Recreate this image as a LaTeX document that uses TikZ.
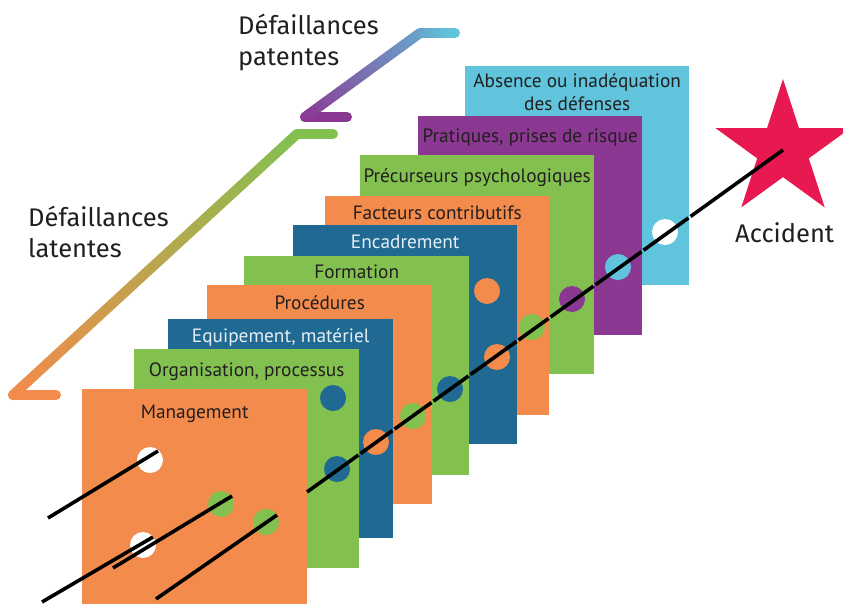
\documentclass[tikz,border=0pt]{standalone}
\usepackage{fontspec}
\setmainfont{PT Sans}
\newfontfamily\headfont{Fira Sans}
\usetikzlibrary{shapes.geometric,calc}
\definecolor{tang}{RGB}{242,139,76}
\definecolor{leaf}{RGB}{130,193,80}
\definecolor{navy}{RGB}{31,105,146}
\definecolor{purp}{RGB}{139,56,146}
\definecolor{skyc}{RGB}{95,196,220}
\definecolor{starred}{RGB}{232,25,80}
\definecolor{textdark}{RGB}{35,31,32}
\definecolor{textlight}{RGB}{228,238,244}
\begin{document}
\begin{tikzpicture}[x=1pt, y=-1pt,
  panel/.style={anchor=north west, inner sep=0pt, minimum height=219pt},
  lbl/.style={anchor=base, inner sep=0pt, align=center, font=\fontsize{19.3}{23}\selectfont},
  head/.style={anchor=base west, inner sep=0pt, align=left, text=textdark, font=\headfont\fontsize{25.5}{30.5}\selectfont},
  ray/.style={line width=3.6pt, black},
  bracket/.style={line width=10pt, line cap=round, line join=round}]
\useasboundingbox (0,0) rectangle (843,603);
\clip (0,0) rectangle (843,603);

% brackets
\coordinate (lat-a) at (333,134);
\coordinate (lat-b) at (297,134);
\coordinate (lat-c) at (13,395);
\coordinate (lat-d) at (56,395);
\draw[bracket, leaf] (lat-a) -- (lat-b);
\foreach \i in {1,...,40}{
  \pgfmathsetmacro\p{(\i-0.5)*2.5}
  \draw[bracket, color=tang!\p!leaf] ($(lat-b)!{(\i-1)/40}!(lat-c)$) -- ($(lat-b)!{\i/40}!(lat-c)$);
}
\draw[bracket, tang] (lat-c) -- (lat-d);

\coordinate (pat-a) at (347,117);
\coordinate (pat-b) at (305,117);
\coordinate (pat-c) at (420,33);
\coordinate (pat-d) at (455,33);
\draw[bracket, purp] (pat-a) -- (pat-b);
\foreach \i in {1,...,30}{
  \pgfmathsetmacro\p{(\i-0.5)*2.5}
  \draw[bracket, color=skyc!\p!purp] ($(pat-b)!{(\i-1)/30}!(pat-c)$) -- ($(pat-b)!{\i/30}!(pat-c)$);
}
\foreach \i in {1,...,10}{
  \pgfmathsetmacro\p{75+(\i-0.5)*2.5}
  \draw[bracket, color=skyc!\p!purp] ($(pat-c)!{(\i-1)/10}!(pat-d)$) -- ($(pat-c)!{\i/10}!(pat-d)$);
}

\node[head] (patentes) at (238,65) {Défaillances\\patentes};
\node[head] (latentes) at (28,257) {Défaillances\\latentes};

% panels, back to front
\foreach \n/\x/\y/\w/\c/\tc/\d/\t in {
  absence/465/66/224/skyc/textdark/44/{Absence ou inadéquation\\des défenses},
  pratiques/418/116/224/purp/textdark/26/{Pratiques, prises de risque},
  precurseurs/360/155/234/leaf/textdark/27/{Précurseurs psychologiques},
  facteurs/325/196/224/tang/textdark/23/{Facteurs contributifs},
  encadrement/293/225/224/navy/textlight/23/{Encadrement},
  formation/244/256/225/leaf/textdark/22/{Formation},
  procedures/207/285/225/tang/textdark/24/{Procédures},
  equipement/168/319/225/navy/textlight/23/{Equipement, matériel},
  organisation/134/349/225/leaf/textdark/27/{Organisation, processus},
  management/82/389/225/tang/textdark/29/{Management}}{
  \node[panel, fill=\c, minimum width=\w pt] (\n) at (\x,\y) {};
  \node[lbl, text=\tc] (\n-t) at ([yshift=-\d pt]\n.north) {\t};
}

% holes
\foreach \x/\y/\c in {150/460/white, 143/545/white, 221/504/leaf, 266/522/leaf,
  333/398/navy, 337/469/navy, 376/442/tang, 413/416/leaf, 450/389/navy,
  487/291/tang, 497/357/tang, 532/327/leaf, 572/299/purp, 618/267/skyc, 665/232/white}
  \fill[\c] (\x,\y) circle (13pt);

\node[star, star points=5, star point ratio=2.618, minimum size=142pt, inner sep=0pt, fill=starred] (accident) at (783,150) {};
\node[head] (accident-t) at (735,242) {Accident};

% trajectories
\coordinate (m0) at (307,492);
\foreach \a/\b in {307/358.5, 360.5/392.5, 394.5/431.5, 433.5/468.5, 470.5/516.5, 518.5/548.5, 550.5/593.5, 595.5/641.5, 643.5/688.5, 690.5/783}
  \draw[ray] ($(m0)!{(\a-307)/476}!(accident.center)$) -- ($(m0)!{(\b-307)/476}!(accident.center)$);
\coordinate (a0) at (48,518);
\coordinate (a1) at (158,451);
\coordinate (b0) at (42,602);
\coordinate (b1) at (153,537);
\coordinate (c0) at (113,568);
\coordinate (c1) at (232,496);
\coordinate (d0) at (156,599);
\coordinate (d1) at (277,515);
\draw[ray] (a0) -- (a1);
\draw[ray] (b0) -- (b1);
\draw[ray] (c0) -- (c1);
\draw[ray] (d0) -- (d1);
\end{tikzpicture}
\end{document}
